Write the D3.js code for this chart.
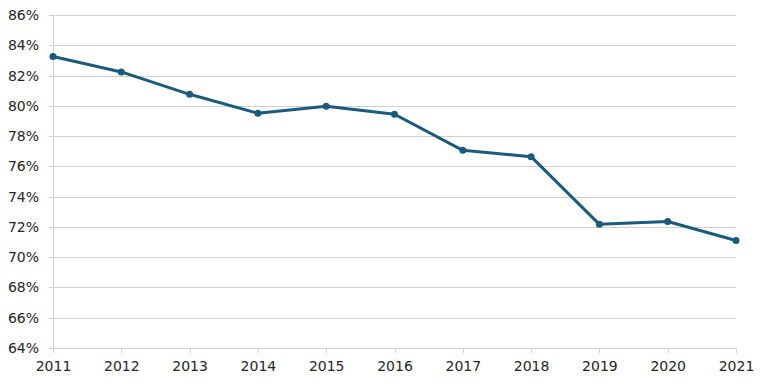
<!DOCTYPE html>
<html>
<head>
<meta charset="utf-8">
<script src="https://cdn.jsdelivr.net/npm/d3@7"></script>
<style>
  body { margin: 0; background: #fff; }
  svg text { font-family: "DejaVu Sans", Verdana, sans-serif; font-size: 14px; fill: #262626; }
</style>
</head>
<body>
<div id="chart"></div>
<script>
const years = [2011, 2012, 2013, 2014, 2015, 2016, 2017, 2018, 2019, 2020, 2021];
const values = [83.26, 82.24, 80.76, 79.51, 79.97, 79.44, 77.06, 76.64, 72.17, 72.36, 71.1];
const yTicks = [64, 66, 68, 70, 72, 74, 76, 78, 80, 82, 84, 86];

const width = 768, height = 384;
const margin = { top: 15, right: 32, bottom: 36, left: 53 };
const innerW = width - margin.left - margin.right;

const svg = d3.select("#chart").append("svg")
  .attr("width", width)
  .attr("height", height);

const x = d3.scaleLinear()
  .domain([2011, 2021])
  .range([margin.left, width - margin.right]);

const y = d3.scaleLinear()
  .domain([64, 86])
  .range([height - margin.bottom, margin.top]);

// gridlines + y labels
const yAxis = svg.append("g")
  .attr("transform", `translate(${margin.left},0)`)
  .call(d3.axisLeft(y)
    .tickValues(yTicks)
    .tickSize(4)
    .tickPadding(10)
    .tickFormat(d => d + "%"));
yAxis.select(".domain").remove();
yAxis.selectAll(".tick line")
  .attr("x1", -4)
  .attr("x2", innerW)
  .attr("stroke", "#d0d0d0")
  .attr("shape-rendering", "crispEdges");

// left axis line
svg.append("line")
  .attr("x1", margin.left).attr("x2", margin.left)
  .attr("y1", y(86)).attr("y2", y(64))
  .attr("stroke", "#d0d0d0")
  .attr("shape-rendering", "crispEdges");

// x axis
const xAxis = svg.append("g")
  .attr("transform", `translate(0,${y(64)})`)
  .call(d3.axisBottom(x)
    .tickValues(years)
    .tickSize(5)
    .tickPadding(8)
    .tickFormat(d3.format("d")));
xAxis.select(".domain").attr("stroke", "#d0d0d0").attr("shape-rendering", "crispEdges");
xAxis.selectAll(".tick line").attr("stroke", "#d0d0d0").attr("shape-rendering", "crispEdges");

const color = "#1c5a7c";

const line = d3.line()
  .x((d, i) => x(years[i]))
  .y(d => y(d));

svg.append("path")
  .datum(values)
  .attr("fill", "none")
  .attr("stroke", color)
  .attr("stroke-width", 3)
  .attr("stroke-linejoin", "round")
  .attr("d", line);

svg.selectAll("circle.pt")
  .data(values)
  .enter()
  .append("circle")
  .attr("class", "pt")
  .attr("cx", (d, i) => x(years[i]))
  .attr("cy", d => y(d))
  .attr("r", 3.5)
  .attr("fill", color);
</script>
</body>
</html>
